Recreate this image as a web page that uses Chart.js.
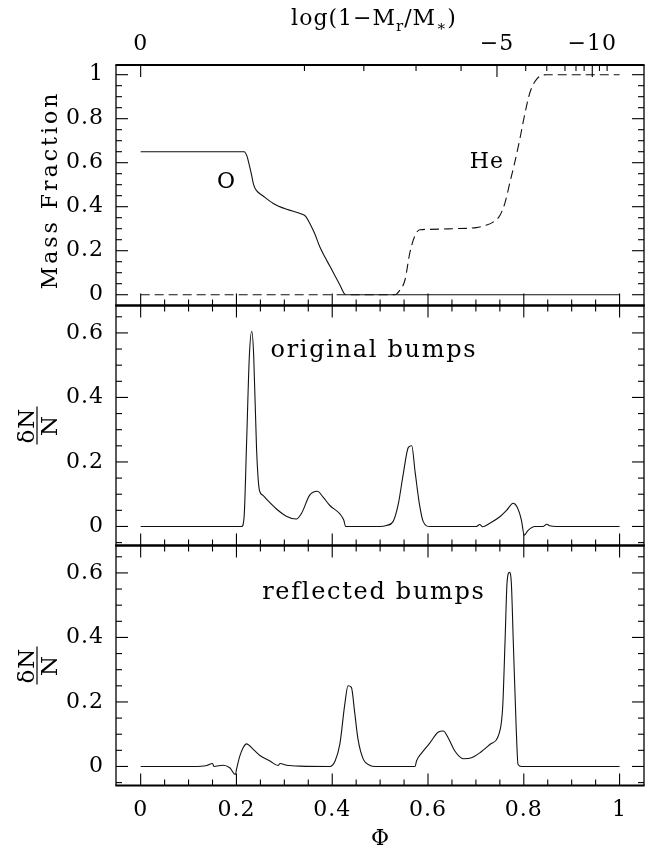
<!DOCTYPE html>
<html>
<head>
<meta charset="utf-8">
<script src="https://cdn.jsdelivr.net/npm/chart.js@4.4.1/dist/chart.umd.min.js"></script>
<style>
  html, body { margin: 0; padding: 0; background: #fff; }
  #wrap { position: relative; width: 657px; height: 852px; }
  #wrap canvas { position: absolute; left: 0; top: 0; }
</style>
</head>
<body>
<div id="wrap">
  <canvas id="top" width="657" height="852"></canvas>
  <canvas id="mid" width="657" height="852"></canvas>
  <canvas id="bot" width="657" height="852"></canvas>
</div>
<script>
// oxygen mass fraction (solid) vs Phi
const phiO = [0, 0.216, 0.222, 0.226, 0.231, 0.236, 0.242, 0.255, 0.277, 0.305, 0.336, 0.345, 0.353, 0.364, 0.374, 0.385, 0.395, 0.406, 0.416, 0.428, 1.0];
const valO = [0.65, 0.65, 0.63, 0.597, 0.55, 0.499, 0.473, 0.45, 0.415, 0.388, 0.367, 0.355, 0.325, 0.275, 0.218, 0.17, 0.13, 0.085, 0.044, 0.0, 0.0];

// helium mass fraction (dashed)
const phiHe = [0, 0.53, 0.541, 0.552, 0.562, 0.573, 0.583, 0.6, 0.65, 0.701, 0.72, 0.736, 0.75, 0.761, 0.771, 0.781, 0.792, 0.802, 0.813, 0.827, 0.848, 1.0];
const valHe = [0, 0, 0.02, 0.068, 0.19, 0.27, 0.295, 0.297, 0.3, 0.305, 0.315, 0.33, 0.36, 0.42, 0.51, 0.6, 0.71, 0.82, 0.92, 0.98, 1.0, 1.0];

// original bumps
const phiOrig = [0, 0.211, 0.216, 0.221, 0.227, 0.232, 0.236, 0.242, 0.248, 0.255, 0.263, 0.283, 0.304, 0.325, 0.336, 0.353, 0.369, 0.381, 0.395, 0.416, 0.424, 0.428, 0.5, 0.513, 0.527, 0.538, 0.548, 0.559, 0.566, 0.573, 0.582, 0.59, 0.604, 0.701, 0.708, 0.714, 0.729, 0.75, 0.764, 0.778, 0.786, 0.795, 0.801, 0.809, 0.823, 0.84, 0.848, 0.854, 0.868, 1.0];
const valOrig = [0, 0, 0.03, 0.25, 0.53, 0.605, 0.53, 0.24, 0.112, 0.097, 0.084, 0.055, 0.032, 0.023, 0.041, 0.097, 0.109, 0.091, 0.065, 0.039, 0.02, 0, 0, 0.003, 0.015, 0.07, 0.16, 0.245, 0.25, 0.17, 0.07, 0.015, 0, 0, 0.006, -0.001, 0.01, 0.03, 0.05, 0.072, 0.06, 0.02, -0.027, -0.012, 0, 0, 0.007, 0.002, 0, 0];

// reflected bumps
const phiRefl = [0, 0.11, 0.138, 0.15, 0.153, 0.172, 0.186, 0.198, 0.2, 0.207, 0.214, 0.221, 0.235, 0.249, 0.27, 0.287, 0.291, 0.305, 0.333, 0.395, 0.406, 0.416, 0.426, 0.433, 0.44, 0.447, 0.454, 0.465, 0.479, 0.49, 0.573, 0.576, 0.587, 0.604, 0.621, 0.632, 0.642, 0.656, 0.674, 0.691, 0.708, 0.729, 0.75, 0.756, 0.761, 0.765, 0.770, 0.774, 0.778, 0.784, 0.788, 0.795, 1.0];
const valRefl = [0, 0, 0.003, 0.009, 0.0, 0.004, -0.004, -0.025, -0.01, 0.032, 0.058, 0.07, 0.053, 0.034, 0.017, 0.003, 0.009, 0.004, 0.001, 0.0, 0.017, 0.07, 0.19, 0.25, 0.245, 0.166, 0.083, 0.022, 0.003, 0, 0, 0.017, 0.042, 0.073, 0.106, 0.11, 0.089, 0.048, 0.024, 0.027, 0.042, 0.068, 0.11, 0.186, 0.394, 0.569, 0.602, 0.569, 0.39, 0.125, 0.006, 0, 0];

// tick labels
const phiLabels = ['0', '0.2', '0.4', '0.6', '0.8', '1'];
const phiLabelVals = [0, 0.2, 0.4, 0.6, 0.8, 1];
const fracLabels = ['0', '0.2', '0.4', '0.6', '0.8', '1'];
const fracLabelVals = [0, 0.2, 0.4, 0.6, 0.8, 1];
const bumpLabels = ['0', '0.2', '0.4', '0.6'];
const bumpLabelVals = [0, 0.2, 0.4, 0.6];
// top axis: log(1 - Mr/M*) ticks, placed at their Phi positions
const logTickPhi = [0, 0.342, 0.466, 0.575, 0.669, 0.744, 0.804, 0.848, 0.886, 0.909, 0.926, 0.943, 0.958, 0.974];
const logMajorPhi = [0, 0.744, 0.943];
const logLabels = ['0', '\u22125', '\u221210'];

const SERIF = '"DejaVu Serif", serif';

function pts(xs, ys) {
  return xs.map((x, i) => ({ x: x, y: ys[i] }));
}

function seg(ctx, x1, y1, x2, y2) {
  ctx.beginPath();
  ctx.moveTo(x1, y1);
  ctx.lineTo(x2, y2);
  ctx.stroke();
}

function text(ctx, s, x, y, size, align, spacing) {
  ctx.font = size + 'px ' + SERIF;
  ctx.letterSpacing = (spacing || 0) + 'px';
  ctx.textAlign = align || 'center';
  ctx.textBaseline = 'middle';
  ctx.fillText(s, x, y);
}

const framePlugin = {
  id: 'frame',
  afterDraw(chart, args, o) {
    const { ctx, chartArea: a } = chart;
    const x = chart.scales.x, y = chart.scales.y;
    ctx.save();
    ctx.strokeStyle = '#000';
    ctx.fillStyle = '#000';

    ctx.lineWidth = 1.3;
    seg(ctx, a.left, a.top, a.left, a.bottom);
    seg(ctx, a.right, a.top, a.right, a.bottom);
    ctx.lineWidth = 2;
    seg(ctx, a.left - 0.6, a.top, a.right + 0.6, a.top);
    seg(ctx, a.left - 0.6, a.bottom, a.right + 0.6, a.bottom);

    ctx.lineWidth = 1.1;
    // phi ticks, bottom edge and (unless log axis) top edge
    for (let i = 0; i <= 20; i++) {
      const px = x.getPixelForValue(i * 0.05);
      const len = i % 4 === 0 ? 12 : 6;
      seg(ctx, px, a.bottom, px, a.bottom - len);
      if (!o.logTop) seg(ctx, px, a.top, px, a.top + len);
    }
    if (o.logTop) {
      logTickPhi.forEach(v => {
        const px = x.getPixelForValue(v);
        const len = logMajorPhi.includes(v) ? 12 : 6;
        seg(ctx, px, a.top, px, a.top + len);
      });
      logLabels.forEach((s, i) => text(ctx, s, x.getPixelForValue(logMajorPhi[i]), 44, 22, 'center', 1));
      // axis title with subscripts
      ctx.letterSpacing = '1px';
      const parts = [['log(1\u2212M', 22, 0], ['r', 15, 6], ['/M', 22, 0], ['\u2217', 15, 6], [')', 22, 0]];
      let w = 0;
      parts.forEach(p => { ctx.font = p[1] + 'px ' + SERIF; w += ctx.measureText(p[0]).width; });
      let cx = 374 - w / 2;
      ctx.textAlign = 'left';
      ctx.textBaseline = 'alphabetic';
      parts.forEach(p => {
        ctx.font = p[1] + 'px ' + SERIF;
        ctx.fillText(p[0], cx, 25 + p[2]);
        cx += ctx.measureText(p[0]).width;
      });
    }
    // y ticks on both sides
    for (let i = -1; i <= 21; i++) {
      const v = i * 0.05;
      if (v < y.min - 1e-9 || v > y.max + 1e-9) continue;
      const py = y.getPixelForValue(v);
      const len = i % 4 === 0 ? 12 : 6;
      seg(ctx, a.left, py, a.left + len, py);
      seg(ctx, a.right, py, a.right - len, py);
    }
    o.yLabels.forEach((s, i) => text(ctx, s, 104, y.getPixelForValue(o.yVals[i]), 22, 'right', 1));

    if (o.bottomLabels) {
      phiLabels.forEach((s, i) => text(ctx, s, x.getPixelForValue(phiLabelVals[i]), 810, 22, 'center', 1));
      text(ctx, '\u03A6', x.getPixelForValue(0.5), 839, 22, 'center', 0);
    }

    // y-axis titles
    const cy = (a.top + a.bottom) / 2;
    ctx.save();
    if (o.yTitle === 'frac') {
      ctx.translate(51, 190);
      ctx.rotate(-Math.PI / 2);
      text(ctx, 'Mass Fraction', 0, 0, 22, 'center', 3);
    } else {
      ctx.translate(37, cy);
      ctx.rotate(-Math.PI / 2);
      ctx.font = '23px ' + SERIF;
      ctx.letterSpacing = '1px';
      ctx.textAlign = 'center';
      ctx.textBaseline = 'alphabetic';
      ctx.fillText('\u03B4N', 0, -3);
      ctx.textBaseline = 'top';
      ctx.fillText('N', 0, 3);
      ctx.lineWidth = 1.2;
      seg(ctx, -19, 0, 19, 0);
    }
    ctx.restore();

    (o.notes || []).forEach(n => text(ctx, n.s, x.getPixelForValue(n.x), y.getPixelForValue(n.y), n.size, 'center', n.sp));
    ctx.restore();
  }
};

function makeChart(id, top, bottom, ymin, ymax, datasets, opts) {
  return new Chart(document.getElementById(id), {
    type: 'scatter',
    data: { datasets: datasets },
    options: {
      responsive: false,
      animation: false,
      devicePixelRatio: 1,
      layout: { padding: { left: 116, right: 13, top: top, bottom: 852 - bottom } },
      scales: {
        x: { type: 'linear', min: -0.0515, max: 1.051, display: false },
        y: { type: 'linear', min: ymin, max: ymax, display: false }
      },
      plugins: { legend: { display: false }, tooltip: { enabled: false }, frame: opts }
    },
    plugins: [framePlugin]
  });
}

function lineSet(data, dash) {
  return {
    data: data,
    showLine: true,
    pointRadius: 0,
    borderColor: '#111',
    borderWidth: 1.1,
    borderDash: dash || [],
    cubicInterpolationMode: 'monotone',
    fill: false
  };
}

makeChart('top', 65, 305.5, -0.049, 1.044,
  [lineSet(pts(phiO, valO)), lineSet(pts(phiHe, valHe), [9, 5])],
  { logTop: true, yLabels: fracLabels, yVals: fracLabelVals, yTitle: 'frac',
    notes: [{ s: 'O', x: 0.178, y: 0.51, size: 22, sp: 0 }, { s: 'He', x: 0.723, y: 0.6, size: 22, sp: 1 }] });

makeChart('mid', 305.5, 545.5, -0.059, 0.685,
  [lineSet(pts(phiOrig, valOrig))],
  { yLabels: bumpLabels, yVals: bumpLabelVals, yTitle: 'dn',
    notes: [{ s: 'original bumps', x: 0.487, y: 0.545, size: 24, sp: 1.7 }] });

makeChart('bot', 545.5, 785.5, -0.059, 0.685,
  [lineSet(pts(phiRefl, valRefl))],
  { bottomLabels: true, yLabels: bumpLabels, yVals: bumpLabelVals, yTitle: 'dn',
    notes: [{ s: 'reflected bumps', x: 0.487, y: 0.54, size: 24, sp: 1.7 }] });
</script>
</body>
</html>
